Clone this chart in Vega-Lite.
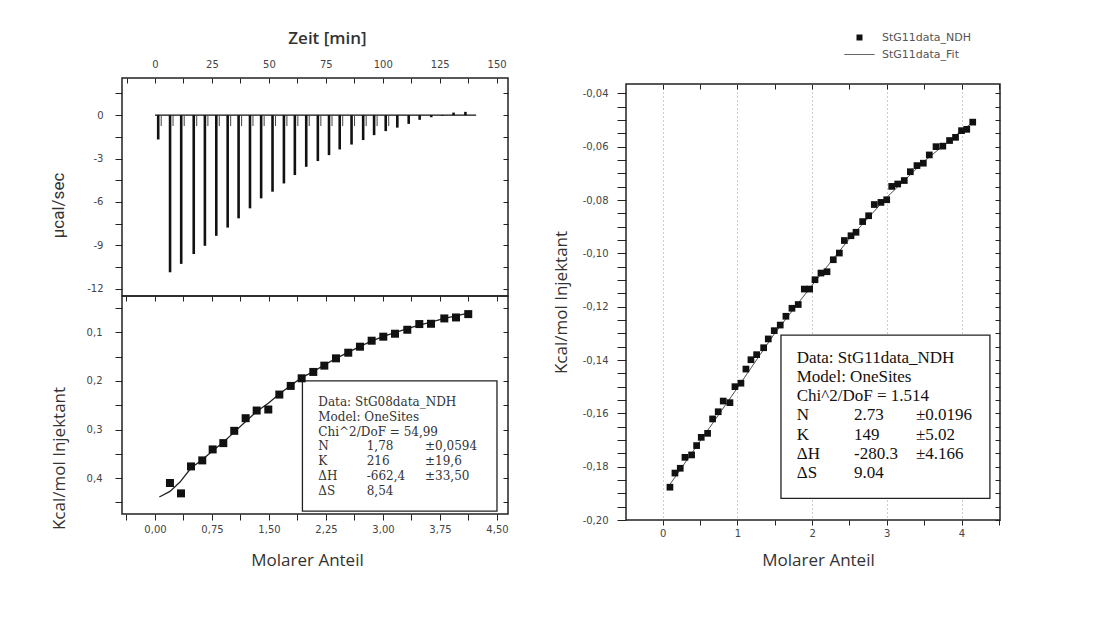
{
  "$schema": "https://vega.github.io/schema/vega-lite/v6.json",
  "background": "white",
  "padding": {"left": 48, "top": 28, "right": 5, "bottom": 5},
  "datasets": {
    "itc": [
      {"t": 1.4, "peak": -1.68}, {"t": 6.6, "peak": -10.86}, {"t": 11.5, "peak": -10.28}, {"t": 17.0, "peak": -9.6},
      {"t": 21.9, "peak": -9.03}, {"t": 26.9, "peak": -8.34}, {"t": 31.9, "peak": -7.77}, {"t": 36.7, "peak": -7.13},
      {"t": 41.7, "peak": -6.44}, {"t": 46.6, "peak": -5.75}, {"t": 51.6, "peak": -5.29}, {"t": 56.6, "peak": -4.72},
      {"t": 61.4, "peak": -4.14}, {"t": 66.4, "peak": -3.57}, {"t": 71.5, "peak": -3.17}, {"t": 76.4, "peak": -2.76},
      {"t": 81.1, "peak": -2.37}, {"t": 86.3, "peak": -2.03}, {"t": 91.4, "peak": -1.72}, {"t": 96.2, "peak": -1.38},
      {"t": 101.3, "peak": -1.1}, {"t": 106.4, "peak": -0.86}, {"t": 111.4, "peak": -0.6}, {"t": 116.2, "peak": -0.32},
      {"t": 121.3, "peak": -0.14}, {"t": 126.2, "peak": -0.05}, {"t": 131.1, "peak": 0.18}, {"t": 136.3, "peak": 0.23}
    ],
    "left_points": [
      {"m": 0.197, "v": 0.4102}, {"m": 0.342, "v": 0.4315}, {"m": 0.474, "v": 0.376}, {"m": 0.622, "v": 0.3636},
      {"m": 0.759, "v": 0.341}, {"m": 0.899, "v": 0.328}, {"m": 1.043, "v": 0.3027}, {"m": 1.193, "v": 0.2767},
      {"m": 1.338, "v": 0.2609}, {"m": 1.491, "v": 0.2588}, {"m": 1.636, "v": 0.228}, {"m": 1.786, "v": 0.2102},
      {"m": 1.93, "v": 0.1945}, {"m": 2.083, "v": 0.1814}, {"m": 2.228, "v": 0.1684}, {"m": 2.382, "v": 0.1534},
      {"m": 2.543, "v": 0.1418}, {"m": 2.697, "v": 0.1294}, {"m": 2.851, "v": 0.1171}, {"m": 3.004, "v": 0.1088},
      {"m": 3.158, "v": 0.1027}, {"m": 3.32, "v": 0.0945}, {"m": 3.478, "v": 0.0828}, {"m": 3.632, "v": 0.0822},
      {"m": 3.807, "v": 0.0712}, {"m": 3.961, "v": 0.0692}, {"m": 4.122, "v": 0.0623}
    ],
    "left_fit": [
      {"m": 0.057, "v": 0.439}, {"m": 0.197, "v": 0.4274}, {"m": 0.329, "v": 0.4082}, {"m": 0.474, "v": 0.3794},
      {"m": 0.622, "v": 0.3623}, {"m": 0.759, "v": 0.3438}, {"m": 0.899, "v": 0.326}, {"m": 1.043, "v": 0.3054},
      {"m": 1.193, "v": 0.2835}, {"m": 1.338, "v": 0.263}, {"m": 1.491, "v": 0.2458}, {"m": 1.636, "v": 0.2267},
      {"m": 1.786, "v": 0.2095}, {"m": 1.93, "v": 0.1931}, {"m": 2.083, "v": 0.1808}, {"m": 2.228, "v": 0.1671},
      {"m": 2.382, "v": 0.1534}, {"m": 2.543, "v": 0.141}, {"m": 2.697, "v": 0.1287}, {"m": 2.851, "v": 0.1178},
      {"m": 3.004, "v": 0.1082}, {"m": 3.158, "v": 0.1006}, {"m": 3.32, "v": 0.0924}, {"m": 3.478, "v": 0.0849},
      {"m": 3.632, "v": 0.0787}, {"m": 3.807, "v": 0.0712}, {"m": 3.961, "v": 0.0657}, {"m": 4.167, "v": 0.0588}
    ],
    "right": [
      {"series": "StG11data_NDH", "m": 0.098, "v": -0.1877}, {"series": "StG11data_NDH", "m": 0.165, "v": -0.1824},
      {"series": "StG11data_NDH", "m": 0.236, "v": -0.1806}, {"series": "StG11data_NDH", "m": 0.299, "v": -0.1765},
      {"series": "StG11data_NDH", "m": 0.388, "v": -0.1756}, {"series": "StG11data_NDH", "m": 0.455, "v": -0.1721},
      {"series": "StG11data_NDH", "m": 0.517, "v": -0.169}, {"series": "StG11data_NDH", "m": 0.602, "v": -0.1675},
      {"series": "StG11data_NDH", "m": 0.669, "v": -0.1621}, {"series": "StG11data_NDH", "m": 0.744, "v": -0.1594},
      {"series": "StG11data_NDH", "m": 0.811, "v": -0.1554}, {"series": "StG11data_NDH", "m": 0.901, "v": -0.156},
      {"series": "StG11data_NDH", "m": 0.968, "v": -0.15}, {"series": "StG11data_NDH", "m": 1.048, "v": -0.1487},
      {"series": "StG11data_NDH", "m": 1.115, "v": -0.1434}, {"series": "StG11data_NDH", "m": 1.182, "v": -0.1399},
      {"series": "StG11data_NDH", "m": 1.258, "v": -0.138}, {"series": "StG11data_NDH", "m": 1.352, "v": -0.1354},
      {"series": "StG11data_NDH", "m": 1.414, "v": -0.1321}, {"series": "StG11data_NDH", "m": 1.494, "v": -0.129},
      {"series": "StG11data_NDH", "m": 1.574, "v": -0.1269}, {"series": "StG11data_NDH", "m": 1.65, "v": -0.1236},
      {"series": "StG11data_NDH", "m": 1.731, "v": -0.1206}, {"series": "StG11data_NDH", "m": 1.815, "v": -0.1192},
      {"series": "StG11data_NDH", "m": 1.896, "v": -0.1134}, {"series": "StG11data_NDH", "m": 1.968, "v": -0.1134},
      {"series": "StG11data_NDH", "m": 2.039, "v": -0.1099}, {"series": "StG11data_NDH", "m": 2.119, "v": -0.1074},
      {"series": "StG11data_NDH", "m": 2.2, "v": -0.1069}, {"series": "StG11data_NDH", "m": 2.284, "v": -0.1024},
      {"series": "StG11data_NDH", "m": 2.365, "v": -0.0999}, {"series": "StG11data_NDH", "m": 2.432, "v": -0.0952},
      {"series": "StG11data_NDH", "m": 2.521, "v": -0.0934}, {"series": "StG11data_NDH", "m": 2.588, "v": -0.0921},
      {"series": "StG11data_NDH", "m": 2.677, "v": -0.0881}, {"series": "StG11data_NDH", "m": 2.757, "v": -0.0859},
      {"series": "StG11data_NDH", "m": 2.833, "v": -0.0817}, {"series": "StG11data_NDH", "m": 2.922, "v": -0.0809},
      {"series": "StG11data_NDH", "m": 2.999, "v": -0.0799}, {"series": "StG11data_NDH", "m": 3.066, "v": -0.0749},
      {"series": "StG11data_NDH", "m": 3.146, "v": -0.074}, {"series": "StG11data_NDH", "m": 3.234, "v": -0.0727},
      {"series": "StG11data_NDH", "m": 3.315, "v": -0.0694}, {"series": "StG11data_NDH", "m": 3.404, "v": -0.0671},
      {"series": "StG11data_NDH", "m": 3.489, "v": -0.0662}, {"series": "StG11data_NDH", "m": 3.569, "v": -0.0631},
      {"series": "StG11data_NDH", "m": 3.659, "v": -0.06}, {"series": "StG11data_NDH", "m": 3.75, "v": -0.0598},
      {"series": "StG11data_NDH", "m": 3.84, "v": -0.0577}, {"series": "StG11data_NDH", "m": 3.92, "v": -0.0565},
      {"series": "StG11data_NDH", "m": 4.0, "v": -0.054}, {"series": "StG11data_NDH", "m": 4.07, "v": -0.0535},
      {"series": "StG11data_NDH", "m": 4.15, "v": -0.0508},
      {"series": "StG11data_Fit", "m": 0.07, "v": -0.1878}, {"series": "StG11data_Fit", "m": 0.5, "v": -0.1705},
      {"series": "StG11data_Fit", "m": 1.0, "v": -0.1505}, {"series": "StG11data_Fit", "m": 1.5, "v": -0.13},
      {"series": "StG11data_Fit", "m": 2.0, "v": -0.112}, {"series": "StG11data_Fit", "m": 2.5, "v": -0.0945},
      {"series": "StG11data_Fit", "m": 3.0, "v": -0.079}, {"series": "StG11data_Fit", "m": 3.5, "v": -0.0655},
      {"series": "StG11data_Fit", "m": 4.0, "v": -0.054}, {"series": "StG11data_Fit", "m": 4.17, "v": -0.0505}
    ],
    "left_box": [
      {"head": "Data: StG08data_NDH\nModel: OneSites\nChi^2/DoF = 54,99",
       "c1": "N\nK\nΔH\nΔS",
       "c2": "1,78\n216\n-662,4\n8,54",
       "c3": "±0,0594\n±19,6\n±33,50"}
    ],
    "right_box": [
      {"head": "Data: StG11data_NDH\nModel: OneSites\nChi^2/DoF = 1.514",
       "c1": "N\nK\nΔH\nΔS",
       "c2": "2.73\n149\n-280.3\n9.04",
       "c3": "±0.0196\n±5.02\n±4.166"}
    ]
  },
  "hconcat": [
    {
      "vconcat": [
        {
          "width": 386,
          "height": 218,
          "layer": [
            {
              "data": {"values": [{}]},
              "mark": {"type": "rule", "color": "#111", "strokeWidth": 1.3},
              "encoding": {
                "x": {"datum": 0, "type": "quantitative", "axis": null},
                "x2": {"datum": 141},
                "y": {"datum": 0, "type": "quantitative", "axis": null}
              }
            },
            {
              "data": {"name": "itc"},
              "mark": {"type": "rule", "color": "#111", "strokeWidth": 2.6},
              "encoding": {
                "x": {
                  "field": "t", "type": "quantitative",
                  "scale": {"domain": [-14.5, 155], "nice": false, "zero": false},
                  "axis": {
                    "orient": "top",
                    "values": [-12.5, 0, 12.5, 25, 37.5, 50, 62.5, 75, 87.5, 100, 112.5, 125, 137.5, 150],
                    "labelExpr": "datum.value % 25 == 0 ? datum.label : ''",
                    "tickSize": -5, "labelPadding": 14,
                    "title": "Zeit [min]", "titleFontSize": 17, "titleFontWeight": 600,
                    "titlePadding": 12, "titleX": 205
                  }
                },
                "y": {
                  "field": "peak", "type": "quantitative",
                  "scale": {"domain": [-12.5, 2.57], "nice": false, "zero": false},
                  "axis": {
                    "orient": "left",
                    "values": [1.5, 0, -1.5, -3, -4.5, -6, -7.5, -9, -10.5, -12],
                    "labelExpr": "round(datum.value*10) % 30 == 0 ? (datum.value < 0 ? '-' + abs(datum.value) : '' + datum.value) : ''",
                    "tickSize": 7, "labelPadding": 12,
                    "title": "µcal/sec", "titleFont": "Liberation Sans Narrow, Roboto", "titleFontSize": 17,
                    "titlePadding": 19, "titleY": 127
                  }
                },
                "y2": {"datum": 0}
              }
            },
            {
              "data": {"name": "itc"},
              "transform": [{"filter": "datum.peak < -1"}],
              "mark": {"type": "rule", "color": "#444", "strokeWidth": 1, "xOffset": 3},
              "encoding": {
                "x": {"field": "t", "type": "quantitative", "axis": null},
                "y": {"datum": -0.75, "type": "quantitative", "axis": null},
                "y2": {"datum": 0}
              }
            },
            {
              "data": {"name": "itc"},
              "mark": {"type": "point", "opacity": 0},
              "encoding": {
                "x": {"field": "t", "type": "quantitative", "axis": null},
                "y": {
                  "field": "peak", "type": "quantitative",
                  "axis": {"orient": "right", "values": [1.5, 0, -1.5, -3, -4.5, -6, -7.5, -9, -10.5, -12], "labels": false, "tickSize": -5, "title": null}
                }
              }
            }
          ],
          "resolve": {"axis": {"x": "independent", "y": "independent"}}
        },
        {
          "width": 386,
          "height": 218,
          "layer": [
            {
              "data": {"name": "left_box"},
              "mark": {"type": "rect", "fill": "white", "stroke": "#222", "strokeWidth": 1.3},
              "encoding": {
                "x": {"datum": 1.94, "type": "quantitative", "axis": null},
                "x2": {"datum": 4.5},
                "y": {"datum": 0.2, "type": "quantitative", "axis": null},
                "y2": {"datum": 0.468}
              }
            },
            {
              "data": {"name": "left_fit"},
              "mark": {"type": "line", "color": "#222", "strokeWidth": 1.3},
              "encoding": {
                "x": {"field": "m", "type": "quantitative", "axis": null},
                "y": {"field": "v", "type": "quantitative", "axis": null}
              }
            },
            {
              "data": {"name": "left_points"},
              "mark": {"type": "point", "shape": "square", "filled": true, "color": "#111", "opacity": 1, "size": 64},
              "encoding": {
                "x": {
                  "field": "m", "type": "quantitative",
                  "scale": {"domain": [-0.434, 4.645], "nice": false, "zero": false},
                  "axis": {
                    "orient": "bottom",
                    "values": [-0.375, 0, 0.375, 0.75, 1.125, 1.5, 1.875, 2.25, 2.625, 3, 3.375, 3.75, 4.125, 4.5],
                    "labelExpr": "round(datum.value*1000) % 750 == 0 ? replace(format(datum.value, '.2f'), '.', ',') : ''",
                    "tickSize": 6, "labelPadding": 4,
                    "title": "Molarer Anteil", "titleFontSize": 17, "titlePadding": 18, "titleX": 185
                  }
                },
                "y": {
                  "field": "v", "type": "quantitative",
                  "scale": {"domain": [0.025, 0.474], "reverse": true, "nice": false, "zero": false},
                  "axis": {
                    "orient": "left",
                    "values": [0.05, 0.1, 0.15, 0.2, 0.25, 0.3, 0.35, 0.4, 0.45],
                    "labelExpr": "round(datum.value*100) % 10 == 0 ? replace(format(datum.value, '.1f'), '.', ',') : ''",
                    "tickSize": 7, "labelPadding": 13,
                    "title": "Kcal/mol Injektant", "titleFontSize": 17, "titlePadding": 18, "titleY": 162
                  }
                }
              }
            },
            {
              "data": {"name": "left_points"},
              "mark": {"type": "point", "opacity": 0},
              "encoding": {
                "x": {
                  "field": "m", "type": "quantitative",
                  "axis": {"orient": "top", "values": [-0.375, 0, 0.375, 0.75, 1.125, 1.5, 1.875, 2.25, 2.625, 3, 3.375, 3.75, 4.125, 4.5], "labels": false, "tickSize": -5, "title": null}
                },
                "y": {
                  "field": "v", "type": "quantitative",
                  "axis": {"orient": "right", "values": [0.05, 0.1, 0.15, 0.2, 0.25, 0.3, 0.35, 0.4, 0.45], "labels": false, "tickSize": -5, "title": null}
                }
              }
            },
            {
              "data": {"name": "left_box"},
              "mark": {"type": "text", "align": "left", "baseline": "top", "lineBreak": "\n", "lineHeight": 15, "font": "DejaVu Serif", "fontSize": 12, "color": "#333"},
              "encoding": {
                "x": {"datum": 2.149, "type": "quantitative", "axis": null},
                "y": {"datum": 0.232, "type": "quantitative", "axis": null},
                "text": {"field": "head"}
              }
            },
            {
              "data": {"name": "left_box"},
              "mark": {"type": "text", "align": "left", "baseline": "top", "lineBreak": "\n", "lineHeight": 15, "font": "DejaVu Serif", "fontSize": 12, "color": "#333"},
              "encoding": {
                "x": {"datum": 2.149, "type": "quantitative", "axis": null},
                "y": {"datum": 0.3245, "type": "quantitative", "axis": null},
                "text": {"field": "c1"}
              }
            },
            {
              "data": {"name": "left_box"},
              "mark": {"type": "text", "align": "left", "baseline": "top", "lineBreak": "\n", "lineHeight": 15, "font": "DejaVu Serif", "fontSize": 12, "color": "#333"},
              "encoding": {
                "x": {"datum": 2.786, "type": "quantitative", "axis": null},
                "y": {"datum": 0.3245, "type": "quantitative", "axis": null},
                "text": {"field": "c2"}
              }
            },
            {
              "data": {"name": "left_box"},
              "mark": {"type": "text", "align": "left", "baseline": "top", "lineBreak": "\n", "lineHeight": 15, "font": "DejaVu Serif", "fontSize": 12, "color": "#333"},
              "encoding": {
                "x": {"datum": 3.553, "type": "quantitative", "axis": null},
                "y": {"datum": 0.3245, "type": "quantitative", "axis": null},
                "text": {"field": "c3"}
              }
            }
          ],
          "resolve": {"axis": {"x": "independent", "y": "independent"}}
        }
      ],
      "spacing": 0,
      "bounds": "flush"
    },
    {
      "vconcat": [
        {
          "width": 374,
          "height": 6,
          "view": {"stroke": null},
          "data": {"values": [{}]},
          "mark": {"type": "rect", "opacity": 0},
          "encoding": {}
        },
        {
          "width": 374,
          "height": 436,
          "layer": [
            {
              "data": {"name": "right_box"},
              "mark": {"type": "rect", "fill": "white", "stroke": "#222", "strokeWidth": 1.3},
              "encoding": {
                "x": {"datum": 1.584, "type": "quantitative", "axis": null},
                "x2": {"datum": 4.38},
                "y": {"datum": -0.1307, "type": "quantitative", "axis": null},
                "y2": {"datum": -0.1919}
              }
            },
            {
              "data": {"name": "right"},
              "transform": [{"filter": "datum.series == 'StG11data_Fit'"}],
              "mark": {"type": "line", "color": "#333", "strokeWidth": 1},
              "encoding": {
                "x": {"field": "m", "type": "quantitative", "axis": null},
                "y": {"field": "v", "type": "quantitative", "axis": null},
                "strokeDash": {
                  "field": "series", "type": "nominal",
                  "scale": {"domain": ["StG11data_Fit"], "range": [[1, 0]]},
                  "legend": {
                    "orient": "none", "legendX": 218, "legendY": -45,
                    "title": null, "padding": 0,
                    "symbolSize": 900, "symbolStrokeColor": "#333", "symbolStrokeWidth": 1,
                    "labelOffset": 7,
                    "labelFont": "DejaVu Sans", "labelFontSize": 11, "labelColor": "#555"
                  }
                }
              }
            },
            {
              "data": {"name": "right"},
              "transform": [{"filter": "datum.series == 'StG11data_NDH'"}],
              "mark": {"type": "point", "filled": true, "color": "#111", "opacity": 1, "size": 45},
              "encoding": {
                "x": {
                  "field": "m", "type": "quantitative",
                  "scale": {"domain": [-0.49, 4.515], "nice": false, "zero": false},
                  "axis": {
                    "orient": "bottom",
                    "values": [0, 0.5, 1, 1.5, 2, 2.5, 3, 3.5, 4, 4.5],
                    "labelExpr": "round(datum.value*10) % 10 == 0 ? '' + round(datum.value) : ''",
                    "tickSize": 5, "labelPadding": 3,
                    "grid": true, "gridDash": [1, 3], "gridColor": "#999",
                    "gridOpacity": {"condition": {"test": "round(datum.value*10) % 10 == 0", "value": 1}, "value": 0},
                    "title": "Molarer Anteil", "titleFontSize": 17, "titlePadding": 14, "titleX": 192
                  }
                },
                "y": {
                  "field": "v", "type": "quantitative",
                  "scale": {"domain": [-0.2, -0.0365], "nice": false, "zero": false},
                  "axis": {
                    "orient": "left",
                    "values": [-0.2, -0.195, -0.19, -0.185, -0.18, -0.175, -0.17, -0.165, -0.16, -0.155, -0.15, -0.145, -0.14, -0.135, -0.13, -0.125, -0.12, -0.115, -0.11, -0.105, -0.1, -0.095, -0.09, -0.085, -0.08, -0.075, -0.07, -0.065, -0.06, -0.055, -0.05, -0.045, -0.04],
                    "labelExpr": "round(datum.value*1000) % 20 == 0 ? '-' + replace(format(abs(datum.value), '.2f'), '.', ',') : ''",
                    "tickSize": 9, "labelPadding": 9,
                    "title": "Kcal/mol Injektant", "titleFontSize": 17, "titlePadding": 12
                  }
                },
                "shape": {
                  "field": "series", "type": "nominal",
                  "scale": {"domain": ["StG11data_NDH"], "range": ["square"]},
                  "legend": {
                    "orient": "none", "legendX": 228, "legendY": -52,
                    "title": null, "padding": 0,
                    "symbolSize": 36, "labelOffset": 17,
                    "symbolFillColor": "#111", "symbolStrokeColor": "#111", "symbolOpacity": 1,
                    "labelFont": "DejaVu Sans", "labelFontSize": 11, "labelColor": "#555"
                  }
                }
              }
            },
            {
              "data": {"name": "right"},
              "mark": {"type": "point", "opacity": 0},
              "encoding": {
                "x": {
                  "field": "m", "type": "quantitative",
                  "axis": {"orient": "top", "values": [0, 0.5, 1, 1.5, 2, 2.5, 3, 3.5, 4, 4.5], "labels": false, "tickSize": -5, "title": null}
                },
                "y": {
                  "field": "v", "type": "quantitative",
                  "axis": {"orient": "right", "values": [-0.2, -0.195, -0.19, -0.185, -0.18, -0.175, -0.17, -0.165, -0.16, -0.155, -0.15, -0.145, -0.14, -0.135, -0.13, -0.125, -0.12, -0.115, -0.11, -0.105, -0.1, -0.095, -0.09, -0.085, -0.08, -0.075, -0.07, -0.065, -0.06, -0.055, -0.05, -0.045, -0.04], "labels": false, "tickSize": -5, "title": null}
                }
              }
            },
            {
              "data": {"name": "right_box"},
              "mark": {"type": "text", "align": "left", "baseline": "top", "lineBreak": "\n", "lineHeight": 19.2, "font": "Liberation Serif", "fontSize": 17, "color": "#111"},
              "encoding": {
                "x": {"datum": 1.795, "type": "quantitative", "axis": null},
                "y": {"datum": -0.1362, "type": "quantitative", "axis": null},
                "text": {"field": "head"}
              }
            },
            {
              "data": {"name": "right_box"},
              "mark": {"type": "text", "align": "left", "baseline": "top", "lineBreak": "\n", "lineHeight": 19.2, "font": "Liberation Serif", "fontSize": 17, "color": "#111"},
              "encoding": {
                "x": {"datum": 1.795, "type": "quantitative", "axis": null},
                "y": {"datum": -0.1578, "type": "quantitative", "axis": null},
                "text": {"field": "c1"}
              }
            },
            {
              "data": {"name": "right_box"},
              "mark": {"type": "text", "align": "left", "baseline": "top", "lineBreak": "\n", "lineHeight": 19.2, "font": "Liberation Serif", "fontSize": 17, "color": "#111"},
              "encoding": {
                "x": {"datum": 2.561, "type": "quantitative", "axis": null},
                "y": {"datum": -0.1578, "type": "quantitative", "axis": null},
                "text": {"field": "c2"}
              }
            },
            {
              "data": {"name": "right_box"},
              "mark": {"type": "text", "align": "left", "baseline": "top", "lineBreak": "\n", "lineHeight": 19.2, "font": "Liberation Serif", "fontSize": 17, "color": "#111"},
              "encoding": {
                "x": {"datum": 3.39, "type": "quantitative", "axis": null},
                "y": {"datum": -0.1578, "type": "quantitative", "axis": null},
                "text": {"field": "c3"}
              }
            }
          ],
          "resolve": {"axis": {"x": "independent", "y": "independent"}}
        }
      ],
      "spacing": 0,
      "bounds": "flush",
      "resolve": {"legend": {"shape": "independent", "strokeDash": "independent"}}
    }
  ],
  "spacing": 41,
  "resolve": {"legend": {"shape": "independent", "strokeDash": "independent"}},
  "config": {
    "view": {"stroke": "#222", "strokeWidth": 1.5},
    "axis": {
      "domain": false,
      "grid": false,
      "labelFont": "DejaVu Sans",
      "labelFontSize": 10,
      "labelColor": "#444",
      "labelFlush": false,
      "labelOverlap": false,
      "tickColor": "#222",
      "tickWidth": 1,
      "titleFont": "Open Sans",
      "titleFontSize": 16,
      "titleFontWeight": "normal",
      "titleColor": "#333"
    }
  }
}
